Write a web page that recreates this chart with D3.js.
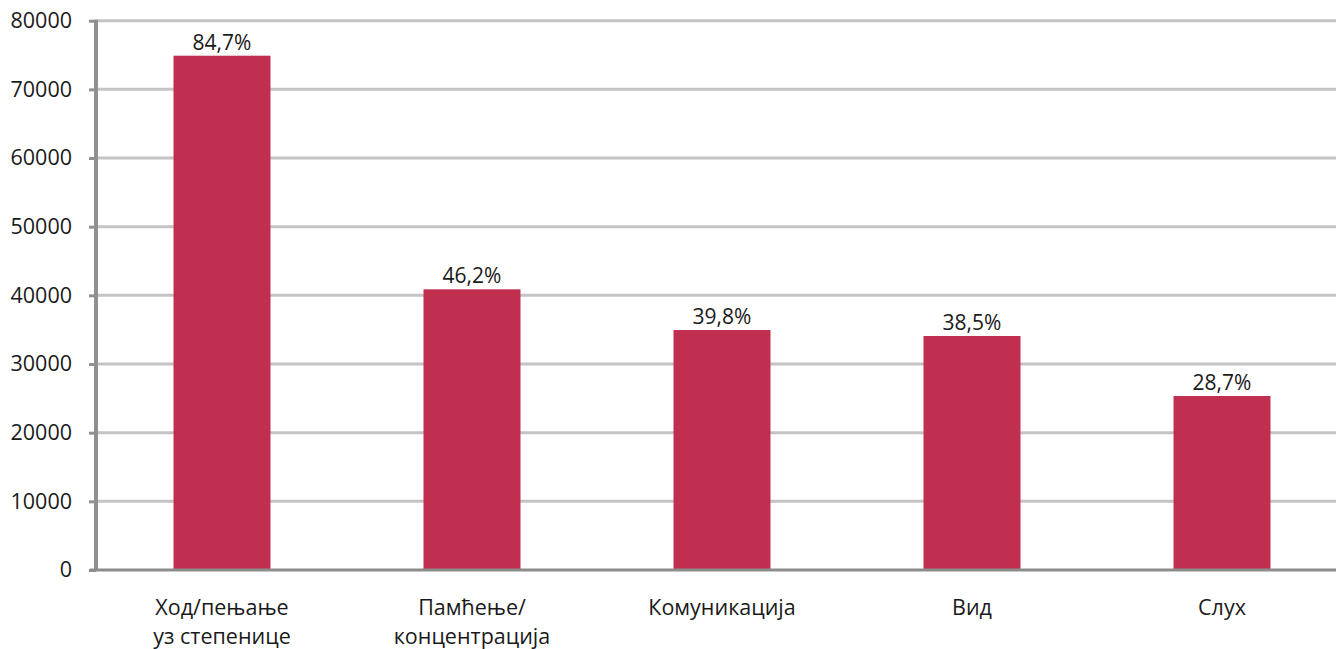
<!DOCTYPE html>
<html><head><meta charset="utf-8">
<script src="https://cdn.jsdelivr.net/npm/d3@7"></script>
<style>body{margin:0;background:#fff}svg{display:block}</style>
</head><body>
<script>
const categories = [["Ход/пењање","уз степенице"],["Памћење/","концентрација"],["Комуникација"],["Вид"],["Слух"]];
const values = [74900, 40880, 34950, 34080, 25340];
const percentLabels = ["84,7%","46,2%","39,8%","38,5%","28,7%"];
const yTicks = [0,10000,20000,30000,40000,50000,60000,70000,80000];

const W = 1336, H = 649;
const font = "'Open Sans', sans-serif";
const svg = d3.select("body").append("svg").attr("width", W).attr("height", H);

const x = d3.scaleBand().domain(d3.range(categories.length)).range([97, 1347]).paddingInner(0.612).paddingOuter(0.306);
const y = d3.scaleLinear().domain([0, 80000]).range([570, 20.7]);

// gridlines
svg.append("g").selectAll("line").data(yTicks.slice(1)).join("line")
  .attr("x1", 96).attr("x2", W).attr("y1", d => y(d)).attr("y2", d => y(d))
  .attr("stroke", "#c4c4c4").attr("stroke-width", 3);

// y axis
const yAxis = svg.append("g").attr("transform", "translate(96,0)")
  .call(d3.axisLeft(y).tickValues(yTicks).tickSize(7).tickPadding(17).tickFormat(d3.format("d")));
yAxis.select(".domain").attr("stroke", "#909090").attr("stroke-width", 4).attr("d", `M0,${y(80000)-1}V${y(0)}`);
yAxis.selectAll(".tick line").attr("stroke", "#909090").attr("stroke-width", 3);
yAxis.selectAll(".tick text").attr("font-family", font).attr("font-size", 21.5).attr("fill", "#1a1a1a");

// bars
svg.append("g").selectAll("rect").data(values).join("rect")
  .attr("x", (d, i) => x(i)).attr("width", x.bandwidth())
  .attr("y", d => y(d)).attr("height", d => y(0) - y(d))
  .attr("fill", "#c02f50");

// baseline
svg.append("line").attr("x1", 90).attr("x2", W).attr("y1", y(0)).attr("y2", y(0))
  .attr("stroke", "#8c8c8c").attr("stroke-width", 3);

// value labels
svg.append("g").selectAll("text").data(values).join("text")
  .attr("x", (d, i) => x(i) + x.bandwidth() / 2).attr("y", d => y(d) - 6)
  .attr("text-anchor", "middle").attr("font-family", font).attr("font-size", 21).attr("fill", "#1a1a1a")
  .text((d, i) => percentLabels[i]);

// category labels
const cat = svg.append("g").selectAll("text").data(categories).join("text")
  .attr("text-anchor", "middle").attr("font-family", font).attr("font-size", 21.5).attr("fill", "#1a1a1a");
cat.each(function(lines, i) {
  const t = d3.select(this);
  lines.forEach((l, j) => t.append("tspan").attr("x", x(i) + x.bandwidth() / 2).attr("y", 615 + j * 29).text(l));
});
</script>
</body></html>
